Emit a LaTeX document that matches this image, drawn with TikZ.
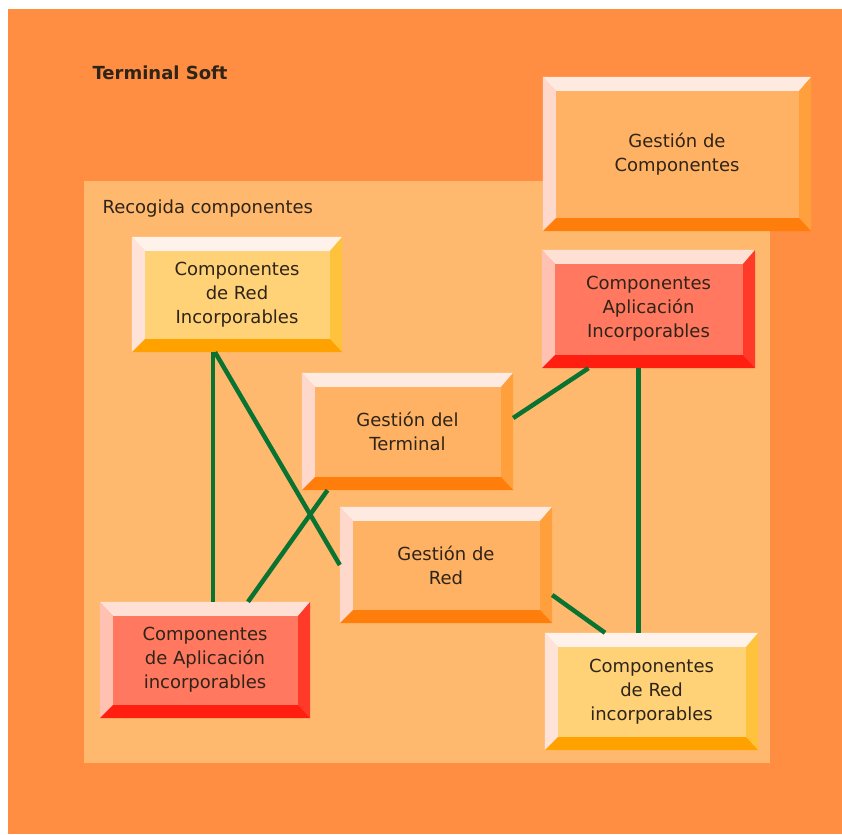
\documentclass[tikz,border=0pt]{standalone}
\usepackage{fontspec}
\setmainfont{DejaVu Sans}

% backgrounds
\definecolor{outerbg}{HTML}{FF8E42}
\definecolor{innerbg}{HTML}{FFB96E}
\definecolor{linkgreen}{HTML}{0B7332}
\definecolor{boxtext}{HTML}{2E2418}
% o = orange boxes, y = yellow boxes, r = red boxes
\definecolor{faceo}{HTML}{FFB264}
\definecolor{topo}{HTML}{FFEAE2}
\definecolor{lefto}{HTML}{FFD8CC}
\definecolor{righto}{HTML}{FFA03C}
\definecolor{boto}{HTML}{FF7D0A}
\definecolor{facey}{HTML}{FFD278}
\definecolor{topy}{HTML}{FFF2EA}
\definecolor{lefty}{HTML}{FFE2D8}
\definecolor{righty}{HTML}{FFC23C}
\definecolor{boty}{HTML}{FFA200}
\definecolor{facer}{HTML}{FF785F}
\definecolor{topr}{HTML}{FFE0D5}
\definecolor{leftr}{HTML}{FFC2B2}
\definecolor{rightr}{HTML}{FF3A28}
\definecolor{botr}{HTML}{FF1E10}

\begin{document}
\begin{tikzpicture}[x=1pt,y=-1pt,
  box/.style={rectangle,inner sep=0pt,align=center,text=boxtext,
    font=\fontsize{18}{24}\selectfont},
  link/.style={draw=linkgreen,line width=4.5pt}]
\useasboundingbox (0,0) rectangle (842,834);
\fill[white] (0,0) rectangle (842,834);
\fill[outerbg] (8,9) rectangle (842,834);
\fill[innerbg] (84,181) rectangle (770,763);

\node[anchor=west,text=boxtext,font=\fontsize{18}{20}\selectfont\bfseries]
  (title) at (89,73) {Terminal Soft};
\node[anchor=west,text=boxtext,font=\fontsize{18}{20}\selectfont]
  (area) at (99,209) {Recogida componentes};

\foreach \n/\x/\y/\w/\h/\p/\t in {
  gcomp/677/154/268/154/o/{Gestión de\\Componentes},
  redA/237/294.5/210/115/y/{Componentes\\de Red\\Incorporables},
  aplA/648.5/309/213/118/r/{Componentes\\Aplicación\\Incorporables},
  gterm/407.5/431.5/211/117/o/{Gestión del\\Terminal},
  gred/446/565/212/116/o/{Gestión de\\Red},
  aplB/205/660/210/116/r/{Componentes\\de Aplicación\\incorporables},
  redB/651.5/691.5/213/117/y/{Componentes\\de Red\\incorporables}}
{
  \node[box,minimum width=\w pt,minimum height=\h pt,fill=face\p]
    (\n) at (\x,\y) {\t};
  \fill[top\p] (\n.north west) -- (\n.north east)
    -- ([shift={(-12pt,-14pt)}]\n.north east)
    -- ([shift={(13pt,-14pt)}]\n.north west) -- cycle;
  \fill[left\p] (\n.north west) -- ([shift={(13pt,-14pt)}]\n.north west)
    -- ([shift={(13pt,13pt)}]\n.south west) -- (\n.south west) -- cycle;
  \fill[right\p] (\n.north east) -- ([shift={(-12pt,-14pt)}]\n.north east)
    -- ([shift={(-12pt,13pt)}]\n.south east) -- (\n.south east) -- cycle;
  \fill[bot\p] (\n.south west) -- ([shift={(13pt,13pt)}]\n.south west)
    -- ([shift={(-12pt,13pt)}]\n.south east) -- (\n.south east) -- cycle;
}

\draw[link] ([xshift=-24pt]redA.south) -- ([xshift=8pt]aplB.north);
\draw[link] ([xshift=-22pt]redA.south) -- (gred.west);
\draw[link] ([xshift=-80pt]gterm.south) -- ([xshift=43pt]aplB.north);
\draw[link] ([yshift=13.5pt]gterm.east) -- ([xshift=-60pt]aplA.south);
\draw[link] ([xshift=-10pt]aplA.south) -- ([xshift=-13pt]redB.north);
\draw[link] ([yshift=-30pt]gred.east) -- ([xshift=-46.5pt]redB.north);
\end{tikzpicture}
\end{document}
